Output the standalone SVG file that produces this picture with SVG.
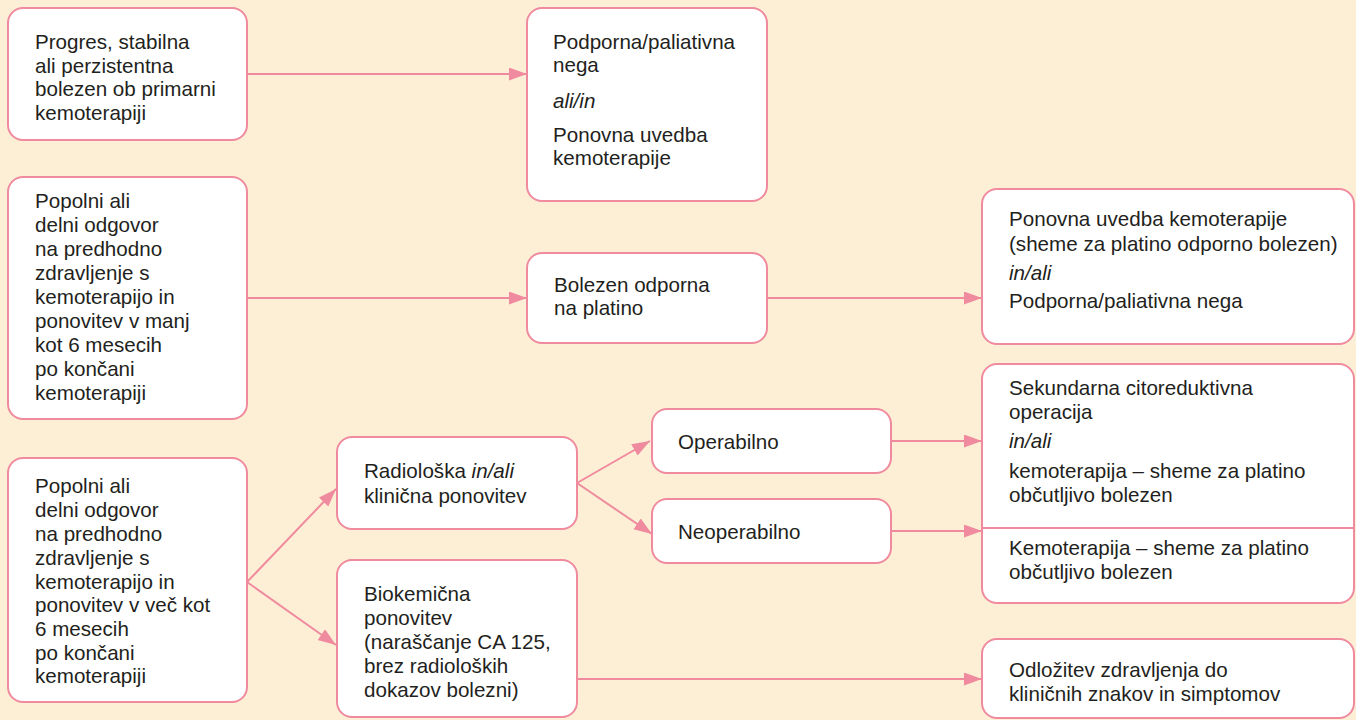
<svg xmlns="http://www.w3.org/2000/svg" width="1356" height="720" viewBox="0 0 1356 720">
<defs>
<style>
.box{fill:#ffffff;stroke:#F08A9E;stroke-width:2}
.t{font-family:"Liberation Sans",Arial,sans-serif;font-size:20.6px;fill:#231F20}
.i{font-style:italic}
.c{fill:none;stroke:#F08A9E;stroke-width:2}
</style>
<marker id="ah" markerUnits="userSpaceOnUse" markerWidth="19" markerHeight="14" refX="18" refY="6.5" orient="auto">
<path d="M0,0 L18,6.5 L0,13 Z" fill="#F08A9E"/>
</marker>
</defs>
<rect x="0" y="0" width="1356" height="720" fill="#FDEFD6"/>

<g id="connectors">
<path class="c" d="M247,74 H527" marker-end="url(#ah)"/>
<path class="c" d="M247,298 H527" marker-end="url(#ah)"/>
<path class="c" d="M767,298 H982" marker-end="url(#ah)"/>
<path class="c" d="M247,582 L336,489" marker-end="url(#ah)"/>
<path class="c" d="M247,582 L336,645" marker-end="url(#ah)"/>
<path class="c" d="M577,483 L650,441" marker-end="url(#ah)"/>
<path class="c" d="M577,483 L652,534" marker-end="url(#ah)"/>
<path class="c" d="M891,441 H982" marker-end="url(#ah)"/>
<path class="c" d="M891,531 H982" marker-end="url(#ah)"/>
<path class="c" d="M577,679 H982" marker-end="url(#ah)"/>
</g>

<g id="n1">
<rect class="box" x="8" y="8" width="239" height="132" rx="15"/>
<text class="t" x="35" y="49">Progres, stabilna</text>
<text class="t" x="35" y="72.5">ali perzistentna</text>
<text class="t" x="35" y="96">bolezen ob primarni</text>
<text class="t" x="35" y="119.5">kemoterapiji</text>
</g>

<g id="n2">
<rect class="box" x="527" y="8" width="240" height="193" rx="15"/>
<text class="t" x="553" y="49">Podporna/paliativna</text>
<text class="t" x="553" y="72">nega</text>
<text class="t i" x="553" y="108">ali/in</text>
<text class="t" x="553" y="142">Ponovna uvedba</text>
<text class="t" x="553" y="165">kemoterapije</text>
</g>

<g id="n3">
<rect class="box" x="8" y="177" width="239" height="242" rx="15"/>
<text class="t" x="35" y="208">Popolni ali</text>
<text class="t" x="35" y="232">delni odgovor</text>
<text class="t" x="35" y="256">na predhodno</text>
<text class="t" x="35" y="280">zdravljenje s</text>
<text class="t" x="35" y="304">kemoterapijo in</text>
<text class="t" x="35" y="327.5">ponovitev v manj</text>
<text class="t" x="35" y="351.5">kot 6 mesecih</text>
<text class="t" x="35" y="375.5">po končani</text>
<text class="t" x="35" y="399.5">kemoterapiji</text>
</g>

<g id="n4">
<rect class="box" x="527" y="253" width="240" height="90" rx="15"/>
<text class="t" x="554" y="292">Bolezen odporna</text>
<text class="t" x="554" y="315">na platino</text>
</g>

<g id="n5">
<rect class="box" x="982" y="189" width="372" height="155" rx="15"/>
<text class="t" x="1009" y="226">Ponovna uvedba kemoterapije</text>
<text class="t" x="1009" y="251">(sheme za platino odporno bolezen)</text>
<text class="t i" x="1009" y="280">in/ali</text>
<text class="t" x="1009" y="308">Podporna/paliativna nega</text>
</g>

<g id="n7">
<rect class="box" x="8" y="458" width="239" height="244" rx="15"/>
<text class="t" x="35" y="493">Popolni ali</text>
<text class="t" x="35" y="517">delni odgovor</text>
<text class="t" x="35" y="541">na predhodno</text>
<text class="t" x="35" y="564.5">zdravljenje s</text>
<text class="t" x="35" y="588.5">kemoterapijo in</text>
<text class="t" x="35" y="612">ponovitev v več kot</text>
<text class="t" x="35" y="636">6 mesecih</text>
<text class="t" x="35" y="659.5">po končani</text>
<text class="t" x="35" y="683">kemoterapiji</text>
</g>

<g id="n8">
<rect class="box" x="337" y="437" width="240" height="92" rx="15"/>
<text class="t" x="364" y="478">Radiološka <tspan class="i">in/ali</tspan></text>
<text class="t" x="364" y="503">klinična ponovitev</text>
</g>

<g id="n9">
<rect class="box" x="337" y="560" width="240" height="157" rx="15"/>
<text class="t" x="364" y="601">Biokemična</text>
<text class="t" x="364" y="625">ponovitev</text>
<text class="t" x="364" y="649">(naraščanje CA 125,</text>
<text class="t" x="364" y="673">brez radioloških</text>
<text class="t" x="364" y="697">dokazov bolezni)</text>
</g>

<g id="n10">
<rect class="box" x="652" y="409" width="239" height="64" rx="15"/>
<text class="t" x="678" y="449">Operabilno</text>
</g>

<g id="n11">
<rect class="box" x="652" y="499" width="239" height="64" rx="15"/>
<text class="t" x="678" y="539">Neoperabilno</text>
</g>

<g id="n6">
<rect class="box" x="982" y="364" width="372" height="239" rx="15"/>
<line class="c" x1="982" y1="528" x2="1354" y2="528"/>
<text class="t" x="1009" y="395">Sekundarna citoreduktivna</text>
<text class="t" x="1009" y="419">operacija</text>
<text class="t i" x="1009" y="448">in/ali</text>
<text class="t" x="1009" y="478">kemoterapija – sheme za platino</text>
<text class="t" x="1009" y="502">občutljivo bolezen</text>
<text class="t" x="1009" y="555">Kemoterapija – sheme za platino</text>
<text class="t" x="1009" y="579">občutljivo bolezen</text>
</g>

<g id="n12">
<rect class="box" x="982" y="639" width="372" height="79" rx="15"/>
<text class="t" x="1009" y="677">Odložitev zdravljenja do</text>
<text class="t" x="1009" y="701">kliničnih znakov in simptomov</text>
</g>
</svg>
